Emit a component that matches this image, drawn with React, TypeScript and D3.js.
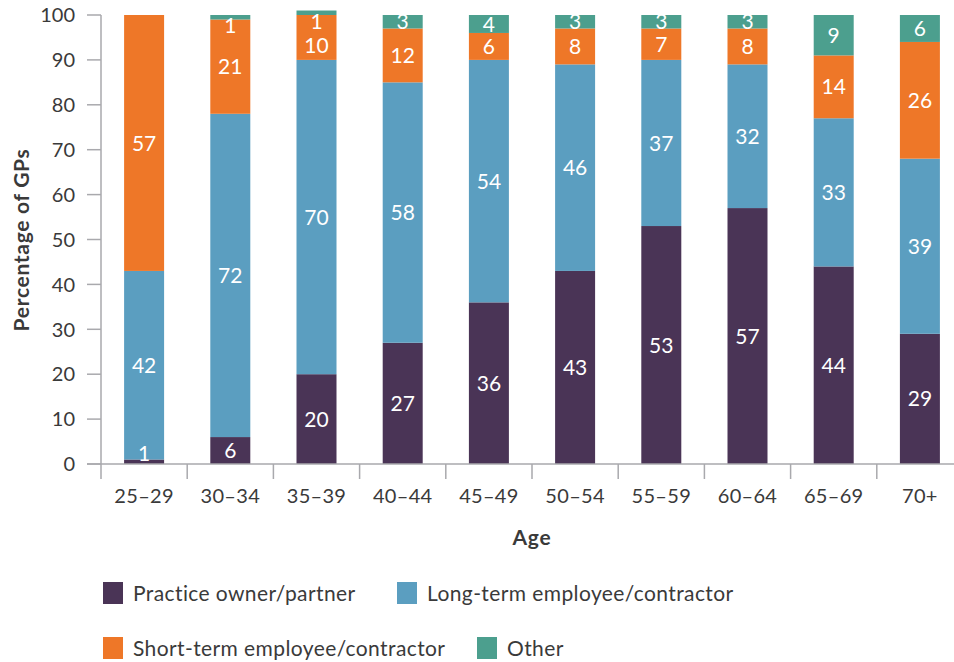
import React from "react";
import * as d3 from "d3";

const categories = ["25–29", "30–34", "35–39", "40–44", "45–49", "50–54", "55–59", "60–64", "65–69", "70+"];
const ownerValues = [1, 6, 20, 27, 36, 43, 53, 57, 44, 29];
const longTermValues = [42, 72, 70, 58, 54, 46, 37, 32, 33, 39];
const shortTermValues = [57, 21, 10, 12, 6, 8, 7, 8, 14, 26];
const otherValues = [0, 1, 1, 3, 4, 3, 3, 3, 9, 6];
const seriesNames = ["Practice owner/partner", "Long-term employee/contractor", "Short-term employee/contractor", "Other"];
const seriesColors = ["#4a3456", "#5b9ec0", "#ee7728", "#4c9f8e"];
const yTicks = [0, 10, 20, 30, 40, 50, 60, 70, 80, 90, 100];

const W = 954;
const H = 662;
const FONT = "Lato, 'Open Sans', sans-serif";
const TEXT = "#3a3a3a";
const AXIS = "#a9a9ad";

export default function App() {
  const rows = categories.map((c, i) => ({
    cat: c,
    owner: ownerValues[i],
    long: longTermValues[i],
    short: shortTermValues[i],
    other: otherValues[i],
  }));
  const keys = ["owner", "long", "short", "other"];
  const stack = d3.stack<any>().keys(keys)(rows);

  const x = d3
    .scaleBand<string>()
    .domain(categories)
    .range([101, 963])
    .paddingInner(0.536)
    .paddingOuter(0.268);
  const y = d3.scaleLinear().domain([0, 100]).range([464, 15]);
  const step = x.step();
  const bw = x.bandwidth();

  const labels: { x: number; y: number; t: string }[] = [];
  stack.forEach((layer, si) => {
    layer.forEach((seg, ci) => {
      const v = seg[1] - seg[0];
      if (v <= 0) return;
      const cx = (x(categories[ci]) as number) + bw / 2;
      let cy = (y(seg[0]) + y(seg[1])) / 2;
      const isTop = si === keys.length - 1 || stack.slice(si + 1).every((l) => l[ci][1] - l[ci][0] <= 0);
      if (v <= 1) {
        if (si === 0) cy = y(seg[1]) - 6;
        else if (isTop) cy = y(seg[0]) + 6;
      } else if (si < keys.length - 1) {
        const nxt = stack[si + 1][ci];
        const nv = nxt[1] - nxt[0];
        if (nv > 0 && nv <= 1 && si + 1 === keys.length - 1 && y(nxt[0]) <= y(100) + 1) cy += 8;
      }
      labels.push({ x: cx, y: cy, t: String(v) });
    });
  });

  const boundaries = categories.map((c) => (x(c) as number) + bw / 2 - step / 2);

  return (
    <svg
      width={W}
      height={H}
      style={{ position: "absolute", left: 0, top: 0, background: "#fff" }}
      fontFamily={FONT}
    >
      {/* bars */}
      {stack.map((layer, si) =>
        layer.map((seg, ci) =>
          seg[1] - seg[0] > 0 ? (
            <rect
              key={`${si}-${ci}`}
              x={x(categories[ci])}
              y={y(seg[1])}
              width={bw}
              height={y(seg[0]) - y(seg[1])}
              fill={seriesColors[si]}
            />
          ) : null
        )
      )}
      {/* bar labels */}
      {labels.map((l, i) => (
        <text
          key={i}
          x={l.x}
          y={l.y}
          dy="0.36em"
          textAnchor="middle"
          fill="#fff"
          fontSize={21}
        >
          {l.t}
        </text>
      ))}
      {/* y axis */}
      <line x1={101} x2={101} y1={y(100)} y2={y(0)} stroke={AXIS} strokeWidth={1.5} />
      {yTicks.map((t) => (
        <g key={t}>
          <line x1={87} x2={101} y1={y(t)} y2={y(t)} stroke={AXIS} strokeWidth={1.5} />
          <text x={75} y={y(t)} dy="0.36em" textAnchor="end" fill={TEXT} fontSize={20}>
            {t}
          </text>
        </g>
      ))}
      {/* x axis */}
      <line x1={87} x2={W} y1={y(0)} y2={y(0)} stroke={AXIS} strokeWidth={1.5} />
      {boundaries.map((b, i) => (
        <line key={i} x1={b} x2={b} y1={y(0)} y2={y(0) + 15} stroke={AXIS} strokeWidth={1.5} />
      ))}
      {categories.map((c) => (
        <text
          key={c}
          x={(x(c) as number) + bw / 2}
          y={503}
          textAnchor="middle"
          fill={TEXT}
          fontSize={20}
          letterSpacing={0.3}
        >
          {c}
        </text>
      ))}
      {/* axis titles */}
      <text x={532} y={545} textAnchor="middle" fill={TEXT} fontSize={21} fontWeight="bold" letterSpacing={0.8}>
        Age
      </text>
      <text
        transform={`translate(29,240) rotate(-90)`}
        textAnchor="middle"
        fill={TEXT}
        fontSize={21}
        fontWeight="bold"
        letterSpacing={0.7}
      >
        Percentage of GPs
      </text>
      {/* legend */}
      {[
        { i: 0, x: 103, y: 582 },
        { i: 1, x: 397, y: 582 },
        { i: 2, x: 103, y: 637 },
        { i: 3, x: 477, y: 637 },
      ].map((p) => (
        <g key={p.i}>
          <rect x={p.x} y={p.y} width={20} height={22} fill={seriesColors[p.i]} />
          <text x={p.x + 30} y={p.y + 11} dy="0.36em" fill={TEXT} fontSize={21} letterSpacing={0.4}>
            {seriesNames[p.i]}
          </text>
        </g>
      ))}
    </svg>
  );
}
